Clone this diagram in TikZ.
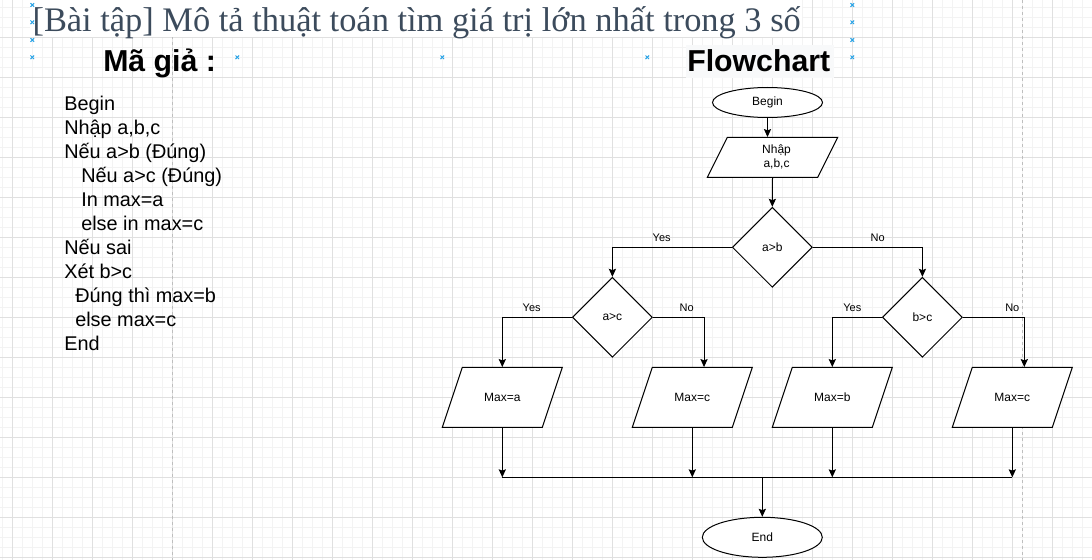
\documentclass[tikz,border=0pt]{standalone}
\usepackage{fontspec}
\setmainfont{Liberation Sans}
\newfontfamily\titlefont{Liberation Serif}
\usetikzlibrary{shapes.geometric,arrows.meta}

\definecolor{gridmajor}{RGB}{224,224,224}
\definecolor{gridminor}{RGB}{243,243,243}
\definecolor{pagebreak}{RGB}{190,190,190}
\definecolor{titlecol}{RGB}{60,75,92}
\definecolor{handlecol}{RGB}{41,163,230}
\definecolor{headbg}{RGB}{248,249,250}

\tikzset{
  box/.style={draw=black, line width=0.75pt, fill=white, font=\fontsize{9}{10.5}\selectfont, inner sep=0pt, align=center},
  term/.style={box, ellipse},
  decision/.style={box, diamond, minimum width=60pt, minimum height=60pt, shape aspect=1},
  iobody/.style={font=\fontsize{9}{10.5}\selectfont, inner sep=0pt, align=center, minimum width=75pt, minimum height=45pt},
  outline/.style={draw=black, line width=0.75pt, fill=white, line join=miter},
  arr/.style={line width=0.75pt, -{Stealth[length=6pt,width=5.4pt,inset=1pt]}},
  ln/.style={line width=0.75pt},
  lbl/.style={font=\fontsize{8.25}{9.9}\selectfont, inner sep=0pt},
  code/.style={font=\fontsize{14.9}{17.9}\selectfont, inner sep=0pt, anchor=base west},
  head/.style={font=\bfseries\fontsize{22.7}{27}\selectfont, inner sep=0pt, anchor=base west},
  handlecross/.style={draw=handlecol, line width=0.75pt},
}

\begin{document}
\begin{tikzpicture}[x=0.75pt,y=-0.75pt]
\useasboundingbox (0,0) rectangle (1092,560);
\fill[white] (0,0) rectangle (1092,560);
% grid
\foreach \gx in {2.3,12.3,...,1092.3} {\draw[gridminor, line width=0.75pt] (\gx,0) -- (\gx,560);}
\foreach \gy in {7.3,17.3,...,557.3} {\draw[gridminor, line width=0.75pt] (0,\gy) -- (1092,\gy);}
\foreach \gx in {12.3,52.3,...,1092.3} {\draw[gridmajor, line width=0.75pt] (\gx,0) -- (\gx,560);}
\foreach \gy in {37.3,77.3,...,557.3} {\draw[gridmajor, line width=0.75pt] (0,\gy) -- (1092,\gy);}
\draw[pagebreak, line width=0.75pt, dash pattern=on 2.25pt off 2.25pt] (172.3,0) -- (172.3,560);
\draw[pagebreak, line width=0.75pt, dash pattern=on 2.25pt off 2.25pt] (1022.3,0) -- (1022.3,560);

% title
\fill[white] (30,0) rectangle (802,37);
\node[inner sep=0pt, anchor=base west, text=titlecol, font=\titlefont\fontsize{25.8}{30}\selectfont] (title) at (32.3,32) {[Bài tập] Mô tả thuật toán tìm giá trị lớn nhất trong 3 số};

% handles
\foreach \hx/\hy in {32.3/5,32.3/22.3,32.3/40,32.3/57.3,237.3/57.3,442.3/57.3,647.3/57.3,852.3/5,852.3/22.3,852.3/40,852.3/57.3}
  {\draw[handlecross] (\hx-1.8,\hy-1.8) -- (\hx+1.8,\hy+1.8) (\hx-1.8,\hy+1.8) -- (\hx+1.8,\hy-1.8);}

% headings
\node[head] (hcode) at (103,71.7) {Mã giả :};
\fill[headbg] (686,45) rectangle (834,78);
\node[head] (hflow) at (687,71.7) {Flowchart};

% pseudo code
\node[code] (c1) at (64,110) {Begin};
\node[code] (c2) at (64,134) {Nhập a,b,c};
\node[code] (c3) at (64,158) {Nếu a>b (Đúng)};
\node[code] (c4) at (81,182) {Nếu a>c (Đúng)};
\node[code] (c5) at (81,206) {In max=a};
\node[code] (c6) at (81,230) {else in max=c};
\node[code] (c7) at (64,254) {Nếu sai};
\node[code] (c8) at (64,278) {Xét b>c};
\node[code] (c9) at (75,302) {Đúng thì max=b};
\node[code] (c10) at (75,326) {else max=c};
\node[code] (c11) at (64,350) {End};

% flowchart nodes
\node[term, minimum width=82.5pt, minimum height=22.5pt] (begin) at (767.5,102.5) {\raisebox{-1pt}{Begin}};

\path[outline] (772.5,157.3) ++(-65.2,20) -- ++(20,-40) -- ++(110.4,0) -- ++(-20,40) -- cycle;
\node[iobody, minimum width=82.8pt, minimum height=30pt] (nhap) at (772.5,157.3) {\hspace*{6pt}Nhập\\\hspace*{6pt}a,b,c};

\node[decision] (ab) at (772.3,247.3) {a>b};
\node[decision] (ac) at (612.4,317.3) {a>c};
\node[decision] (bc) at (922.4,317.3) {b>c};

\path[outline] (502.3,397.3) ++(-60,30) -- ++(20,-60) -- ++(100,0) -- ++(-20,60) -- cycle;
\node[iobody] (ma) at (502.3,397.3) {Max=a};
\path[outline] (692.3,397.3) ++(-60,30) -- ++(20,-60) -- ++(100,0) -- ++(-20,60) -- cycle;
\node[iobody] (mc1) at (692.3,397.3) {Max=c};
\path[outline] (832.3,397.3) ++(-60,30) -- ++(20,-60) -- ++(100,0) -- ++(-20,60) -- cycle;
\node[iobody] (mb) at (832.3,397.3) {Max=b};
\path[outline] (1012.3,397.3) ++(-60,30) -- ++(20,-60) -- ++(100,0) -- ++(-20,60) -- cycle;
\node[iobody] (mc2) at (1012.3,397.3) {Max=c};

\coordinate (bus) at (762.3,477.3);
\node[term, minimum width=90pt, minimum height=30pt] (endn) at (762.3,537.3) {End};

% labels
\node[lbl] (yes1) at (661.7,237.7) {Yes};
\node[lbl] (no1) at (877.7,237.7) {No};
\node[lbl] (yes2) at (531.7,307.7) {Yes};
\node[lbl] (no2) at (686.7,307.7) {No};
\node[lbl] (yes3) at (852.3,307.7) {Yes};
\node[lbl] (no3) at (1012.3,307.7) {No};

% connectors
\draw[arr] (begin.south) -- (begin.south |- nhap.north);
\draw[arr] (nhap.south) -- (ab.north);
\draw[arr] (ab.west) -| (ac.north);
\draw[arr] (ab.east) -| (bc.north);
\draw[arr] (ac.west) -| (ma.north);
\draw[arr] (ac.east) -| ([xshift=8.8pt]mc1.north);
\draw[arr] (bc.west) -| (mb.north);
\draw[arr] (bc.east) -| ([xshift=9pt]mc2.north);
\draw[arr] (ma.south) -- (ma.south |- bus);
\draw[arr] (mc1.south) -- (mc1.south |- bus);
\draw[arr] (mb.south) -- (mb.south |- bus);
\draw[arr] (mc2.south) -- (mc2.south |- bus);
\draw[ln] (ma.south |- bus) -- (mc2.south |- bus);
\draw[arr] (bus) -- (endn.north);
\end{tikzpicture}
\end{document}
